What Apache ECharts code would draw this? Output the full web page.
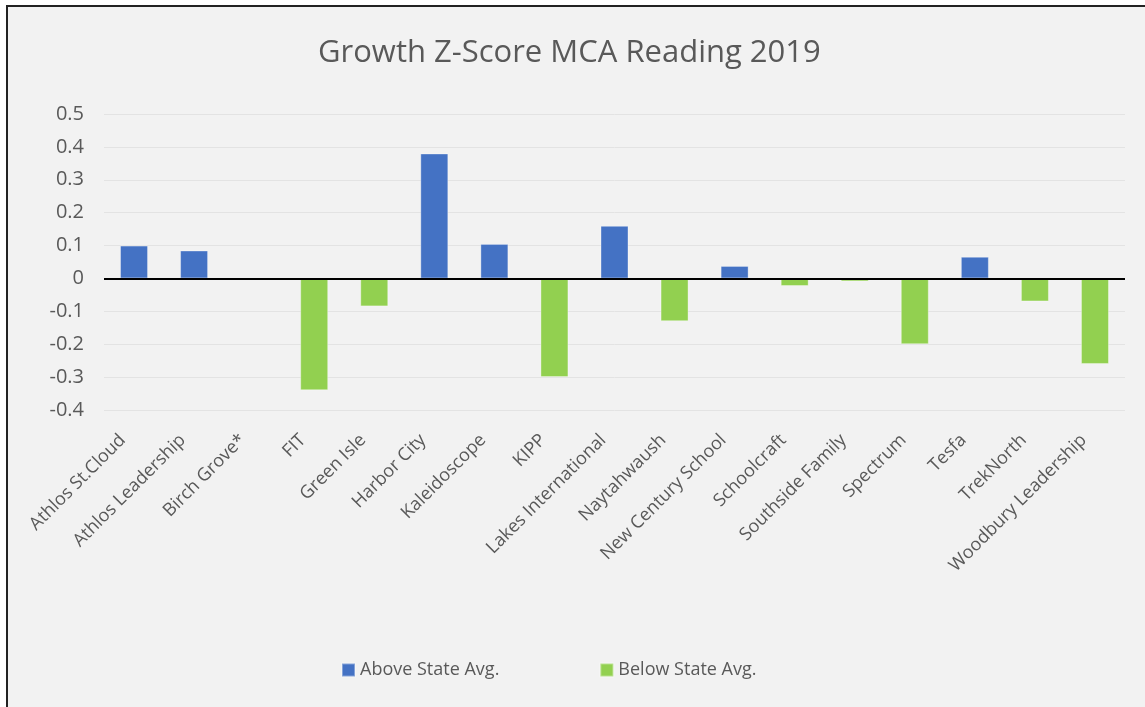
<!DOCTYPE html>
<html>
<head>
<meta charset="utf-8">
<script src="https://cdn.jsdelivr.net/npm/echarts@6/dist/echarts.min.js"></script>
<style>
  html, body { margin: 0; padding: 0; background: #fff; }
  #frame {
    position: absolute; left: 6px; top: 5px;
    border-left: 2px solid #222; border-top: 2px solid #222;
  }
  #main { width: 1137px; height: 700px; background: #f2f2f2; }
</style>
</head>
<body>
<div id="frame"><div id="main"></div></div>
<script>
const categories = ['Athlos St.Cloud', 'Athlos Leadership', 'Birch Grove*', 'FIT', 'Green Isle',
  'Harbor City', 'Kaleidoscope', 'KIPP', 'Lakes International', 'Naytahwaush',
  'New Century School', 'Schoolcraft', 'Southside Family', 'Spectrum', 'Tesfa',
  'TrekNorth', 'Woodbury Leadership']
const aboveAvg = [0.10, 0.085, null, null, null, 0.38, 0.105, null, 0.16, null,
  0.038, null, null, null, 0.066, null, null]
const belowAvg = [null, null, null, -0.34, -0.085, null, null, -0.30, null, -0.13,
  null, -0.023, -0.009, -0.20, null, -0.07, -0.26]
const seriesNames = ['Above State Avg.', 'Below State Avg.']

const font = '"Open Sans", "Noto Sans", sans-serif'
const chart = echarts.init(document.getElementById('main'))

chart.setOption({
  animation: false,
  color: ['#4472c4', '#92d050'],
  title: {
    text: 'Growth Z-Score MCA Reading 2019',
    left: 305,
    top: 26,
    textStyle: { color: '#595959', fontSize: 31, fontWeight: 'normal', fontFamily: font }
  },
  legend: {
    data: seriesNames,
    left: 328,
    top: 649,
    icon: 'rect',
    itemWidth: 13,
    itemHeight: 13,
    itemGap: 100,
    textStyle: { color: '#595959', fontSize: 18, fontFamily: font }
  },
  grid: {
    left: 96,
    right: 20,
    top: 107,
    height: 296
  },
  xAxis: {
    type: 'category',
    data: categories,
    axisLine: { show: false },
    axisTick: { show: false },
    axisLabel: {
      rotate: 45,
      interval: 0,
      margin: 16,
      padding: [0, 16, 0, 0],
      color: '#595959',
      fontSize: 18,
      fontFamily: font
    }
  },
  yAxis: {
    type: 'value',
    min: -0.4,
    max: 0.5,
    interval: 0.1,
    axisLine: { show: false },
    axisTick: { show: false },
    axisLabel: {
      margin: 20,
      color: '#595959',
      fontSize: 20,
      fontFamily: font,
      formatter: v => String(Math.round(v * 10) / 10)
    },
    splitLine: { lineStyle: { color: '#e3e3e3', width: 1 } }
  },
  series: [
    {
      name: seriesNames[0],
      type: 'bar',
      stack: 'z',
      barWidth: 28,
      data: aboveAvg,
      itemStyle: { borderColor: 'rgba(255,255,255,0.35)', borderWidth: 1 }
    },
    {
      name: seriesNames[1],
      type: 'bar',
      stack: 'z',
      barWidth: 28,
      data: belowAvg,
      itemStyle: { borderColor: 'rgba(255,255,255,0.35)', borderWidth: 1 },
      markLine: {
        silent: true,
        symbol: 'none',
        label: { show: false },
        lineStyle: { color: '#000', width: 2, type: 'solid' },
        data: [{ yAxis: 0 }]
      }
    }
  ]
})
</script>
</body>
</html>
